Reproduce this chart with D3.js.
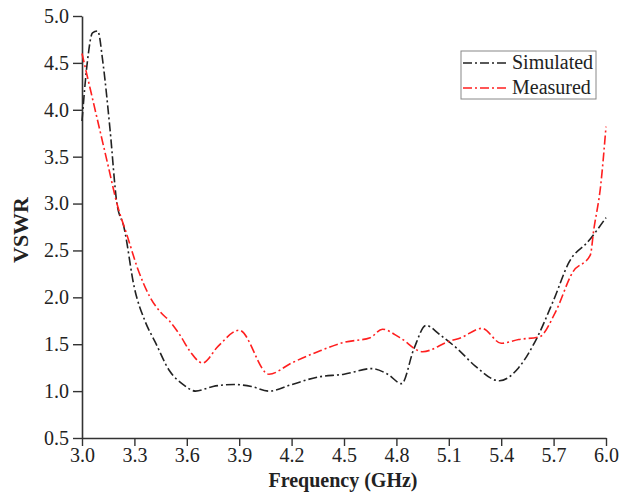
<!DOCTYPE html>
<html>
<head>
<meta charset="utf-8">
<script src="https://cdn.jsdelivr.net/npm/d3@7"></script>
<style>
  body { margin: 0; background: #fff; }
  svg text { font-family: "Liberation Serif", "Times New Roman", serif; }
</style>
</head>
<body>
<svg id="chart"></svg>
<script>
// values
var sim_freq = [3.0, 3.03, 3.06, 3.09, 3.12, 3.16, 3.2, 3.24, 3.3, 3.36, 3.42, 3.5, 3.58, 3.65,
  3.75, 3.87, 3.97, 4.07, 4.2, 4.35, 4.5, 4.66, 4.75, 4.83, 4.9, 4.97, 5.05, 5.15, 5.25, 5.39,
  5.5, 5.6, 5.7, 5.79, 5.9, 6.0];
var sim_vswr = [3.88, 4.5, 4.82, 4.84, 4.5, 3.8, 3.0, 2.75, 2.1, 1.75, 1.52, 1.22, 1.07, 1.0,
  1.05, 1.07, 1.05, 1.0, 1.07, 1.15, 1.18, 1.24, 1.18, 1.08, 1.45, 1.70, 1.6, 1.45, 1.27, 1.11,
  1.25, 1.55, 1.97, 2.38, 2.6, 2.85];

var meas_freq = [3.0, 3.05, 3.1, 3.15, 3.2, 3.26, 3.32, 3.39, 3.45, 3.5, 3.56, 3.62, 3.69, 3.78,
  3.9, 4.07, 4.2, 4.35, 4.5, 4.65, 4.72, 4.82, 4.95, 5.1, 5.17, 5.29, 5.4, 5.5, 5.62, 5.71,
  5.81, 5.91, 5.93, 5.97, 6.0];
var meas_vswr = [4.6, 4.2, 3.8, 3.4, 3.0, 2.65, 2.3, 2.0, 1.84, 1.75, 1.6, 1.42, 1.3, 1.48,
  1.65, 1.18, 1.3, 1.42, 1.52, 1.57, 1.66, 1.57, 1.42, 1.53, 1.57, 1.67, 1.51, 1.55, 1.58, 1.84,
  2.27, 2.45, 2.72, 3.2, 3.82];

var x_ticks = [3.0, 3.3, 3.6, 3.9, 4.2, 4.5, 4.8, 5.1, 5.4, 5.7, 6.0];
var y_ticks = [0.5, 1.0, 1.5, 2.0, 2.5, 3.0, 3.5, 4.0, 4.5, 5.0];
var series_names = ["Simulated", "Measured"];
var series_colors = ["#222222", "#ff1f1f"];

var margin = {top: 16, right: 13, bottom: 62, left: 82},
    width = 619 - margin.left - margin.right,
    height = 500 - margin.top - margin.bottom;

var svg = d3.select("#chart")
  .attr("width", 619)
  .attr("height", 500);

var plot = svg.append("g")
  .attr("transform", "translate(" + margin.left + "," + margin.top + ")");

var xScale = d3.scaleLinear().domain([3.0, 6.0]).range([0, width]);
var yScale = d3.scaleLinear().domain([0.5, 5.0]).range([height, 0]);

var xAxis = d3.axisBottom(xScale)
  .tickValues(x_ticks)
  .tickFormat(d3.format(".1f"))
  .tickSize(8)
  .tickSizeOuter(0)
  .tickPadding(2);
var yAxis = d3.axisLeft(yScale)
  .tickValues(y_ticks)
  .tickFormat(d3.format(".1f"))
  .tickSize(9)
  .tickSizeOuter(0)
  .tickPadding(4);

var gx = plot.append("g")
  .attr("class", "x axis")
  .attr("transform", "translate(0," + height + ")")
  .call(xAxis);
var gy = plot.append("g")
  .attr("class", "y axis")
  .call(yAxis);

[gx, gy].forEach(function(g) {
  g.select(".domain").attr("stroke", "#333").attr("stroke-width", 1.6);
  g.selectAll(".tick line").attr("stroke", "#333").attr("stroke-width", 1.4);
  g.selectAll(".tick text")
    .attr("font-family", "Liberation Serif, serif")
    .attr("font-size", "20px")
    .attr("fill", "#222");
});

var lineGen = d3.line()
  .x(function(d) { return xScale(d[0]); })
  .y(function(d) { return yScale(d[1]); })
  .curve(d3.curveMonotoneX);

var sim_data = sim_freq.map(function(f, i) { return [f, sim_vswr[i]]; });
var meas_data = meas_freq.map(function(f, i) { return [f, meas_vswr[i]]; });

plot.append("path")
  .attr("d", lineGen(sim_data))
  .attr("fill", "none")
  .style("stroke", series_colors[0])
  .style("stroke-width", "1.6")
  .style("stroke-dasharray", "9,3,2,3");

plot.append("path")
  .attr("d", lineGen(meas_data))
  .attr("fill", "none")
  .style("stroke", series_colors[1])
  .style("stroke-width", "1.6")
  .style("stroke-dasharray", "9,3,2,3");

// legend
var legend = svg.append("g")
  .attr("transform", "translate(461,51)");
legend.append("rect")
  .attr("width", 135)
  .attr("height", 48)
  .attr("fill", "#fff")
  .attr("stroke", "#888")
  .attr("stroke-width", 1);

series_names.forEach(function(name, i) {
  legend.append("line")
    .attr("x1", 2).attr("x2", 47)
    .attr("y1", 12 + i * 25).attr("y2", 12 + i * 25)
    .style("stroke", series_colors[i])
    .style("stroke-width", "1.6")
    .style("stroke-dasharray", "9,3,2,3");
  legend.append("text")
    .text(name)
    .attr("x", 51)
    .attr("y", 18 + i * 25)
    .attr("font-size", "20px")
    .attr("fill", "#222");
});

// axis titles
svg.append("text")
  .text("Frequency (GHz)")
  .attr("x", 343)
  .attr("y", 487)
  .attr("text-anchor", "middle")
  .attr("font-size", "20px")
  .attr("font-weight", "bold")
  .attr("fill", "#222");

svg.append("text")
  .text("VSWR")
  .attr("text-anchor", "middle")
  .attr("font-size", "22px")
  .attr("font-weight", "bold")
  .attr("fill", "#222")
  .attr("transform", "translate(28,230) rotate(-90)");
</script>
</body>
</html>
